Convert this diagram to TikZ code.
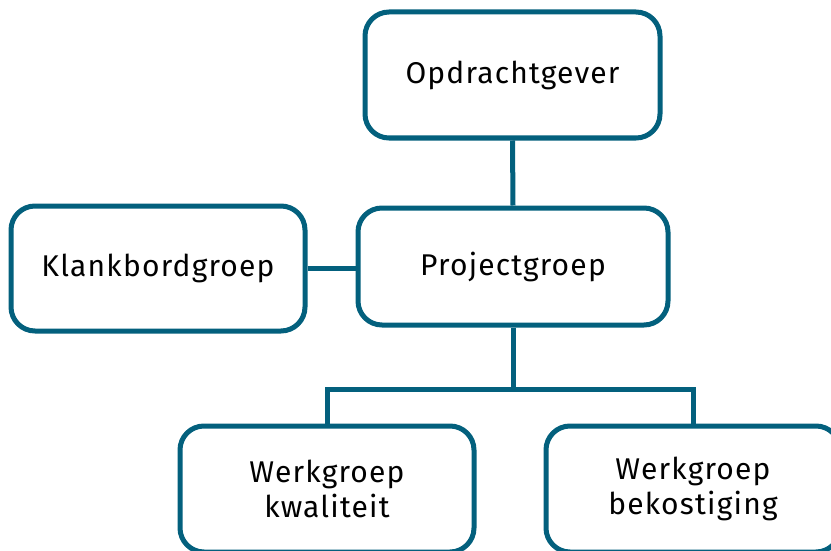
\documentclass[tikz,border=0pt]{standalone}
\usepackage{fontspec}
\setmainfont{Fira Sans}[LetterSpace=4]
\definecolor{teal1}{HTML}{03607D}
\begin{document}
\begin{tikzpicture}[x=1pt,y=-1pt,
  box/.style={draw=teal1,line width=5pt,rounded corners=24pt,fill=white,
    minimum width=#1,align=center,inner sep=0pt,
    font=\fontsize{30}{35}\selectfont},
  box/.default=294pt,
  conn/.style={draw=teal1,line width=5pt}]
\useasboundingbox (0,0) rectangle (831,551);
\clip (0,0) rectangle (831,551);
\node[box=295pt,minimum height=126pt] (og) at (512.5,75) {Opdrachtgever};
\node[box=310pt,minimum height=117pt] (pg) at (513,266.5) {Projectgroep};
\node[box=294pt,minimum height=125pt] (kb) at (158,268.5) {Klankbordgroep};
\node[box=294pt,minimum height=126pt] (wk) at (327,489) {Werkgroep\\kwaliteit};
\node[box=294pt,minimum height=126pt] (wb) at (693,489) {Werkgroep\\bekostiging};
\coordinate (j) at (513,389);
\draw[conn] (og.south) -- (pg.north);
\draw[conn] (kb.east) -- (kb.east -| pg.west);
\draw[conn] (pg.south) -- (j);
\draw[conn] (wk.north) |- (j) -| (wb.north);
\end{tikzpicture}
\end{document}
